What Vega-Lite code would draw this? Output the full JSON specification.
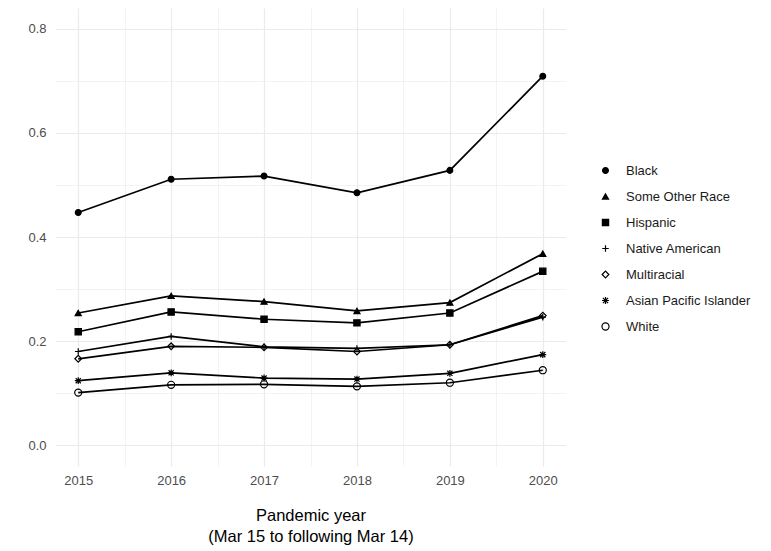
{
  "$schema": "https://vega.github.io/schema/vega-lite/v6.json",
  "width": 511,
  "height": 458,
  "autosize": {"type": "none"},
  "padding": {"left": 55, "top": 8, "right": 205, "bottom": 85},
  "background": "white",
  "config": {
    "view": {"stroke": null},
    "font": "Liberation Sans",
    "axis": {
      "domain": false,
      "ticks": false,
      "gridColor": "#ebebeb",
      "labelFontSize": 13,
      "labelColor": "#4d4d4d",
      "titleFontSize": 16.5,
      "titleColor": "#000000",
      "titleFontWeight": "normal"
    },
    "legend": {
      "labelFontSize": 13,
      "labelColor": "#1a1a1a",
      "symbolStrokeWidth": 1.2
    }
  },
  "data": {
    "values": [
      {"year": 2015, "race": "Black", "rate": 0.447},
      {"year": 2016, "race": "Black", "rate": 0.511},
      {"year": 2017, "race": "Black", "rate": 0.517},
      {"year": 2018, "race": "Black", "rate": 0.485},
      {"year": 2019, "race": "Black", "rate": 0.528},
      {"year": 2020, "race": "Black", "rate": 0.709},
      {"year": 2015, "race": "Some Other Race", "rate": 0.254},
      {"year": 2016, "race": "Some Other Race", "rate": 0.287},
      {"year": 2017, "race": "Some Other Race", "rate": 0.276},
      {"year": 2018, "race": "Some Other Race", "rate": 0.258},
      {"year": 2019, "race": "Some Other Race", "rate": 0.274},
      {"year": 2020, "race": "Some Other Race", "rate": 0.368},
      {"year": 2015, "race": "Hispanic", "rate": 0.218},
      {"year": 2016, "race": "Hispanic", "rate": 0.256},
      {"year": 2017, "race": "Hispanic", "rate": 0.242},
      {"year": 2018, "race": "Hispanic", "rate": 0.235},
      {"year": 2019, "race": "Hispanic", "rate": 0.254},
      {"year": 2020, "race": "Hispanic", "rate": 0.334},
      {"year": 2015, "race": "Native American", "rate": 0.180},
      {"year": 2016, "race": "Native American", "rate": 0.209},
      {"year": 2017, "race": "Native American", "rate": 0.189},
      {"year": 2018, "race": "Native American", "rate": 0.186},
      {"year": 2019, "race": "Native American", "rate": 0.193},
      {"year": 2020, "race": "Native American", "rate": 0.246},
      {"year": 2015, "race": "Multiracial", "rate": 0.166},
      {"year": 2016, "race": "Multiracial", "rate": 0.190},
      {"year": 2017, "race": "Multiracial", "rate": 0.188},
      {"year": 2018, "race": "Multiracial", "rate": 0.180},
      {"year": 2019, "race": "Multiracial", "rate": 0.193},
      {"year": 2020, "race": "Multiracial", "rate": 0.249},
      {"year": 2015, "race": "Asian Pacific Islander", "rate": 0.124},
      {"year": 2016, "race": "Asian Pacific Islander", "rate": 0.139},
      {"year": 2017, "race": "Asian Pacific Islander", "rate": 0.129},
      {"year": 2018, "race": "Asian Pacific Islander", "rate": 0.127},
      {"year": 2019, "race": "Asian Pacific Islander", "rate": 0.138},
      {"year": 2020, "race": "Asian Pacific Islander", "rate": 0.174},
      {"year": 2015, "race": "White", "rate": 0.101},
      {"year": 2016, "race": "White", "rate": 0.116},
      {"year": 2017, "race": "White", "rate": 0.117},
      {"year": 2018, "race": "White", "rate": 0.113},
      {"year": 2019, "race": "White", "rate": 0.120},
      {"year": 2020, "race": "White", "rate": 0.144}
    ]
  },
  "encoding": {
    "x": {
      "field": "year",
      "type": "quantitative",
      "scale": {"domain": [2014.75, 2020.25], "nice": false, "zero": false},
      "axis": {
        "values": [2015, 2015.5, 2016, 2016.5, 2017, 2017.5, 2018, 2018.5, 2019, 2019.5, 2020],
        "labelExpr": "datum.value % 1 == 0 ? format(datum.value, 'd') : ''",
        "gridWidth": {"condition": {"test": "datum.value % 1 != 0", "value": 0.6}, "value": 1.2},
        "labelPadding": 8,
        "title": ["Pandemic year", "(Mar 15 to following Mar 14)"],
        "titleLineHeight": 21,
        "titlePadding": 20
      }
    },
    "y": {
      "field": "rate",
      "type": "quantitative",
      "scale": {"domain": [-0.04, 0.84], "nice": false, "zero": false},
      "axis": {
        "values": [0, 0.1, 0.2, 0.3, 0.4, 0.5, 0.6, 0.7, 0.8],
        "labelExpr": "round(datum.value * 10) % 2 == 0 ? format(datum.value, '.1f') : ''",
        "gridWidth": {"condition": {"test": "round(datum.value * 10) % 2 == 1", "value": 0.6}, "value": 1.2},
        "labelPadding": 9,
        "title": null
      }
    }
  },
  "layer": [
    {
      "mark": {"type": "line", "color": "black", "strokeWidth": 1.7},
      "encoding": {"detail": {"field": "race"}}
    },
    {
      "mark": {"type": "point", "strokeWidth": 1.2, "opacity": 1},
      "encoding": {
        "shape": {
          "field": "race",
          "type": "nominal",
          "scale": {
            "domain": ["Black", "Some Other Race", "Hispanic", "Native American", "Multiracial", "Asian Pacific Islander", "White"],
            "range": ["circle", "triangle-up", "square", "M-1,0L1,0M0,-1L0,1", "diamond", "M-1,0L1,0M0,-1L0,1M-0.75,-0.75L0.75,0.75M-0.75,0.75L0.75,-0.75", "circle"]
          },
          "legend": {
            "title": null,
            "orient": "none",
            "legendX": 544,
            "legendY": 156,
            "rowPadding": 12,
            "labelOffset": 14,
            "padding": 0
          }
        },
        "fill": {
          "field": "race",
          "type": "nominal",
          "scale": {
            "domain": ["Black", "Some Other Race", "Hispanic", "Native American", "Multiracial", "Asian Pacific Islander", "White"],
            "range": ["black", "black", "black", "transparent", "transparent", "transparent", "transparent"]
          },
          "legend": {
            "title": null,
            "orient": "none",
            "legendX": 544,
            "legendY": 156,
            "rowPadding": 12,
            "labelOffset": 14,
            "padding": 0
          }
        },
        "stroke": {
          "field": "race",
          "type": "nominal",
          "scale": {
            "domain": ["Black", "Some Other Race", "Hispanic", "Native American", "Multiracial", "Asian Pacific Islander", "White"],
            "range": ["black", "black", "black", "black", "black", "black", "black"]
          },
          "legend": {
            "title": null,
            "orient": "none",
            "legendX": 544,
            "legendY": 156,
            "rowPadding": 12,
            "labelOffset": 14,
            "padding": 0
          }
        },
        "size": {
          "field": "race",
          "type": "nominal",
          "scale": {
            "domain": ["Black", "Some Other Race", "Hispanic", "Native American", "Multiracial", "Asian Pacific Islander", "White"],
            "range": [34, 50, 32, 56, 52, 56, 36]
          },
          "legend": {
            "title": null,
            "orient": "none",
            "legendX": 544,
            "legendY": 156,
            "rowPadding": 12,
            "labelOffset": 14,
            "padding": 0
          }
        }
      }
    }
  ]
}
